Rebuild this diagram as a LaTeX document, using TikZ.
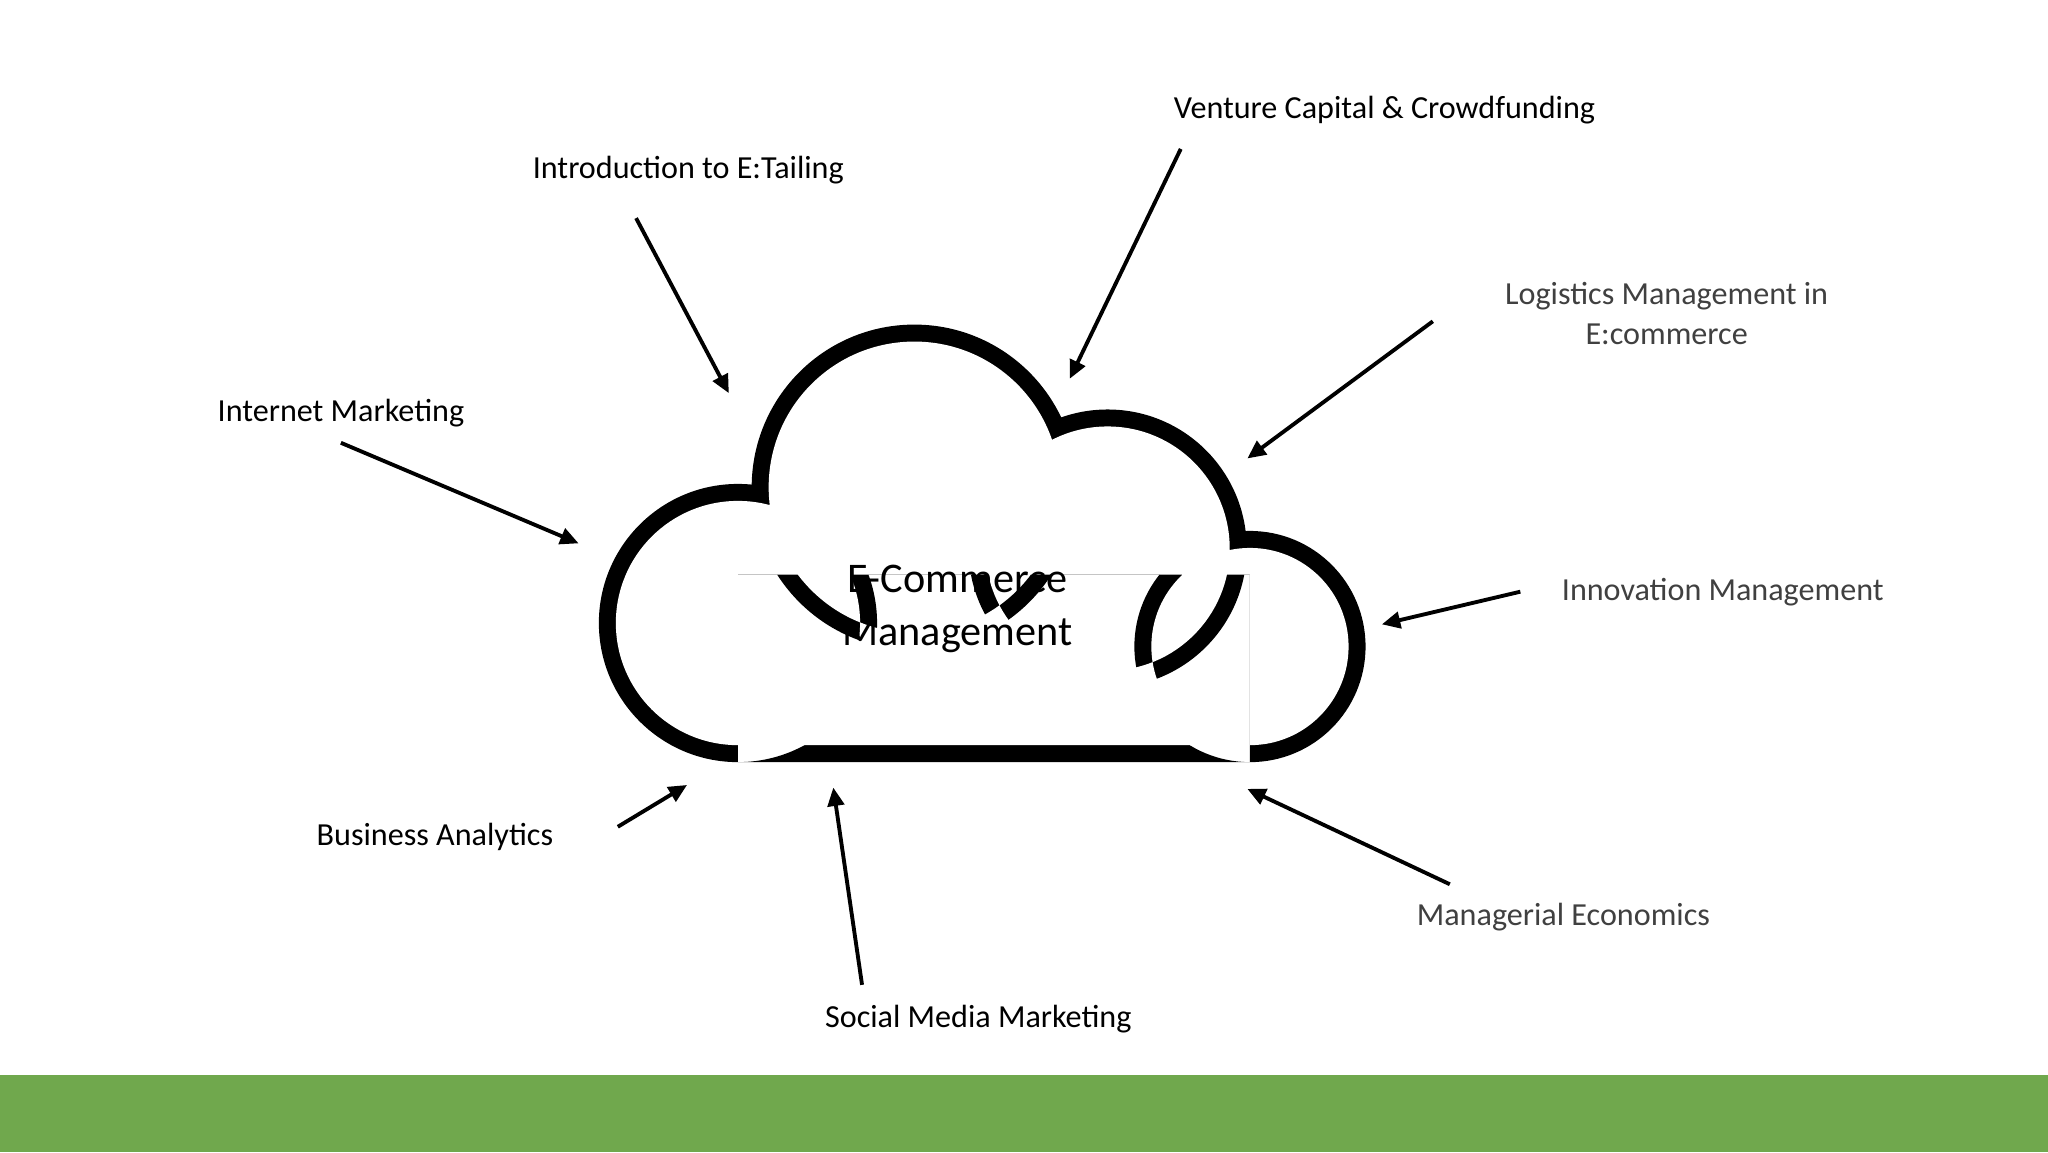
\documentclass[tikz,border=0pt]{standalone}
\usepackage{fontspec}
\setmainfont{Carlito}
\usetikzlibrary{arrows.meta}
\definecolor{bandgreen}{RGB}{112,168,77}
\definecolor{txtgray}{RGB}{64,64,64}
\begin{document}
\begin{tikzpicture}[x=0.05cm,y=-0.05cm,
  lbl/.style={font=\fontsize{35}{43}\selectfont,align=center,inner sep=0pt},
  lblg/.style={lbl,text=txtgray},
  arr/.style={line width=4.2pt,-{Triangle[length=20pt,width=18pt]}}]
\useasboundingbox (0,0) rectangle (1568,882);
\fill[white] (0,0) rectangle (1568,882);
\fill[bandgreen] (0,823) rectangle (1568,882);
% cloud
\def\w{6.5}
\fill[black] (565,477) circle (100+\w) (700,373) circle (118+\w) (848,420) circle (100+\w) (957,495) circle (82+\w)
  (565,440) rectangle (957,577+\w);
\fill[white] (565,477) circle (100-\w) (700,373) circle (118-\w) (848,420) circle (100-\w) (957,495) circle (82-\w)
  (565,440) rectangle (957,577-\w);
\node[lbl,font=\fontsize{46}{58}\selectfont] (c) at (733,466) {E-Commerce\\Management};
% labels
\node[lbl] (ven) at (1060,84) {Venture Capital \& Crowdfunding};
\node[lbl] (int) at (527,130) {Introduction to E:Tailing};
\node[lblg] (log) at (1276,240) {Logistics Management in\\E:commerce};
\node[lbl] (inm) at (261,316) {Internet Marketing};
\node[lblg] (inn) at (1319,453) {Innovation Management};
\node[lbl] (bus) at (333,641) {Business Analytics};
\node[lbl] (soc) at (749,780) {Social Media Marketing};
\node[lblg] (man) at (1197,702) {Managerial Economics};
% arrow endpoints
\coordinate (a1) at (487,167); \coordinate (b1) at (558,301);
\coordinate (a2) at (904,114); \coordinate (b2) at (819,290);
\coordinate (a3) at (1097,246); \coordinate (b3) at (955,351);
\coordinate (a4) at (1164,453); \coordinate (b4) at (1058,478);
\coordinate (a5) at (1110,677); \coordinate (b5) at (955,604);
\coordinate (a6) at (660,754); \coordinate (b6) at (638,603);
\coordinate (a7) at (473,633); \coordinate (b7) at (526,601);
\coordinate (a8) at (261,339); \coordinate (b8) at (443,416);
\foreach \i in {1,...,8} \draw[arr] (a\i) -- (b\i);
\end{tikzpicture}
\end{document}
